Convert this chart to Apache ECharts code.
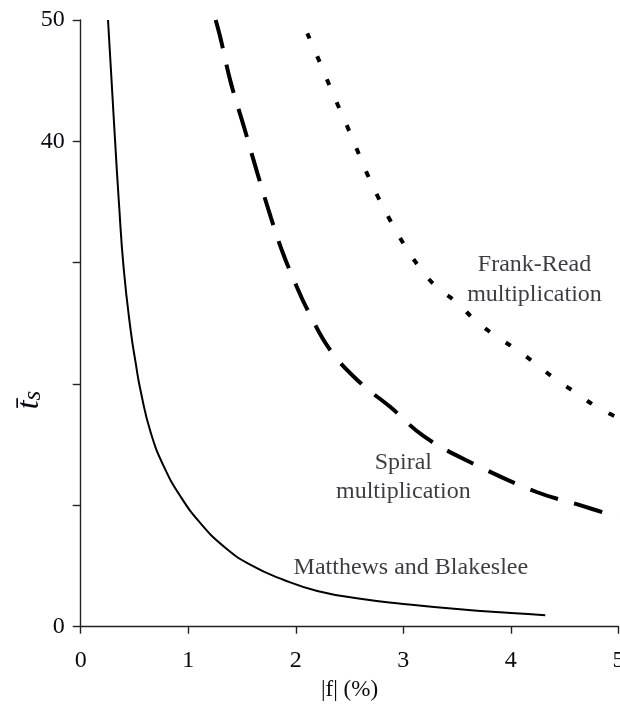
<!DOCTYPE html>
<html>
<head>
<meta charset="utf-8">
<script src="https://cdn.jsdelivr.net/npm/echarts@6/dist/echarts.min.js"></script>
<style>html,body{margin:0;padding:0;background:#fff;}#c{width:620px;height:709px;}</style>
</head>
<body>
<div id="c"></div>
<script>
// Data
const xTicks = [0, 1, 2, 3, 4, 5];
const yTickLabels = [0, 40, 50];
const matthews = [[0.254,50],[0.287,45],[0.32,40],[0.355,35],[0.40,29.5],[0.465,24.4],[0.51,21.8],[0.558,19.4],[0.651,16.0],[0.774,13.19],[0.929,10.72],[1.115,8.52],[1.332,6.60],[1.58,5.09],[1.89,3.85],[2.20,2.95],[2.60,2.3],[3.0,1.88],[3.5,1.45],[4.0,1.12],[4.32,0.95]];
const spiral = [[1.255,50],[1.30,48.5],[1.394,44.9],[1.518,41.2],[1.642,37.4],[1.766,33.8],[1.88,30.8],[2.01,28.0],[2.11,26.1],[2.32,22.8],[2.60,20.1],[2.88,18.1],[3.19,15.7],[3.59,13.7],[4.24,11.1],[4.65,10.0],[5.0,9.0]];
const frankRead = [[2.107,48.9],[2.2,47.0],[2.29,45.1],[2.386,43.1],[2.48,41.2],[2.57,39.3],[2.66,37.4],[2.76,35.5],[2.865,33.7],[3.0,31.6],[3.16,29.5],[3.31,28.0],[3.50,26.7],[3.686,25.1],[3.87,23.9],[4.06,22.8],[4.24,21.6],[4.43,20.3],[4.62,19.2],[4.80,18.1],[5.0,17.2]];
const labels = [
  {x: 4.22, y: 29.8, text: 'Frank-Read'},
  {x: 4.22, y: 27.4, text: 'multiplication'},
  {x: 3.0,  y: 13.5, text: 'Spiral'},
  {x: 3.0,  y: 11.1, text: 'multiplication'},
  {x: 3.07, y: 4.9,  text: 'Matthews and Blakeslee'}
];

const FONT = '"Liberation Serif", "DejaVu Serif", serif';
const TXT = '#0a0a14';
const chart = echarts.init(document.getElementById('c'));
const axisLine = {show: true, onZero: false, lineStyle: {color: '#222', width: 1.4}};
chart.setOption({
  animation: false,
  grid: {left: 80.7, right: 1.6, top: 20, bottom: 82.3, containLabel: false, outerBoundsMode: 'none'},
  xAxis: {
    type: 'value', min: xTicks[0], max: xTicks[xTicks.length-1], interval: 1,
    axisLine: axisLine,
    axisTick: {show: true, length: 7, lineStyle: {color: '#222', width: 1.4}},
    axisLabel: {color: TXT, fontFamily: FONT, fontSize: 24, margin: 22, hideOverlap: false},
    splitLine: {show: false},
    name: '|f| (%)', nameLocation: 'middle', nameGap: 52,
    nameTextStyle: {color: TXT, fontFamily: FONT, fontSize: 23}
  },
  yAxis: {
    type: 'value', min: 0, max: 50, interval: 10,
    axisLine: axisLine,
    axisTick: {show: true, length: 8, lineStyle: {color: '#222', width: 1.4}},
    axisLabel: {color: TXT, fontFamily: FONT, fontSize: 24, margin: 16,
      formatter: v => yTickLabels.indexOf(v) >= 0 ? String(v) : ''},
    splitLine: {show: false}
  },
  graphic: [{
    type: 'text', x: 27, y: 400, rotation: Math.PI/2,
    style: {
      text: '{t|t\u0304}{s|s}', align: 'center', verticalAlign: 'middle',
      rich: {
        t: {fontFamily: FONT, fontStyle: 'italic', fontSize: 32, fill: TXT, verticalAlign: 'bottom'},
        s: {fontFamily: FONT, fontStyle: 'italic', fontSize: 25, fill: TXT, padding: [12,0,0,0], verticalAlign: 'bottom'}
      }
    }
  }],
  series: [
    {type: 'line', data: matthews, smooth: 0.5, showSymbol: false, symbol: 'none',
     lineStyle: {color: '#000', width: 2}},
    {type: 'line', data: spiral, smooth: 0.4, showSymbol: false, symbol: 'none',
     lineStyle: {color: '#000', width: 4, type: [29, 17], cap: 'butt'}},
    {type: 'line', data: frankRead, smooth: 0.4, showSymbol: false, symbol: 'none',
     lineStyle: {color: '#000', width: 4, type: [6, 19], cap: 'butt'}},
    {type: 'scatter', symbolSize: 0, silent: true,
     data: labels.map(l => ({value: [l.x, l.y], label: {formatter: l.text}})),
     label: {show: true, position: 'inside', color: TXT, fontFamily: FONT, fontSize: 24}}
  ]
});
</script>
</body>
</html>
